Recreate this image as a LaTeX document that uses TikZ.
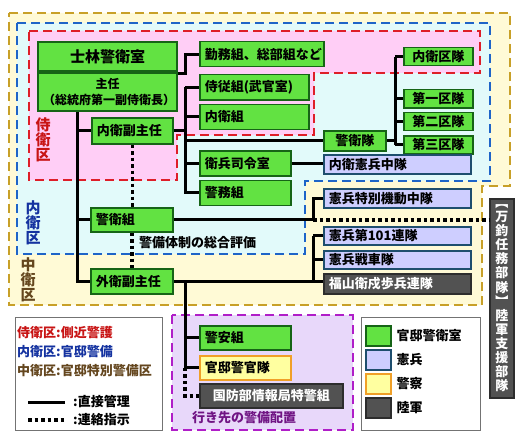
\documentclass[tikz,border=0pt]{standalone}
\usepackage{fontspec}
\setmainfont{Noto Sans CJK JP}
\usetikzlibrary{positioning}

\definecolor{grnfill}{RGB}{98,226,66}
\definecolor{grnline}{RGB}{22,100,22}
\definecolor{kenfill}{RGB}{206,206,255}
\definecolor{kenline}{RGB}{30,78,110}
\definecolor{polfill}{RGB}{255,255,160}
\definecolor{polline}{RGB}{240,160,40}
\definecolor{armyfill}{RGB}{82,82,82}
\definecolor{armyline}{RGB}{45,45,45}
\definecolor{chueifill}{RGB}{255,250,214}
\definecolor{chueiline}{RGB}{200,160,40}
\definecolor{naieifill}{RGB}{226,250,250}
\definecolor{naieiline}{RGB}{30,100,200}
\definecolor{jieifill}{RGB}{255,206,246}
\definecolor{jieiline}{RGB}{222,30,40}
\definecolor{destfill}{RGB}{232,216,250}
\definecolor{destline}{RGB}{176,30,200}
\definecolor{desttext}{RGB}{112,20,132}
\definecolor{jieitext}{RGB}{200,20,20}
\definecolor{naieitext}{RGB}{20,50,160}
\definecolor{chueitext}{RGB}{100,70,30}

\begin{document}
\begin{tikzpicture}[
  x=1pt, y=-1pt,
  font=\bfseries\fontsize{13}{15}\selectfont,
  zone/.style={line width=2.4pt, dash pattern=on 9pt off 5pt},
  box/.style={draw, line width=1.5pt, anchor=north west, inner xsep=5pt, inner ysep=0pt, minimum height=25pt, align=left},
  grn/.style={box, draw=grnline, fill=grnfill},
  ken/.style={box, draw=kenline, fill=kenfill, minimum height=19pt},
  pol/.style={box, draw=polline, fill=polfill},
  army/.style={box, draw=armyline, fill=armyfill, text=white},
  ku/.style={grn, minimum width=69pt, minimum height=18pt, align=center, inner xsep=0pt},
  swatch/.style={draw, line width=1.5pt, anchor=north west, minimum width=25pt, minimum height=20pt, inner sep=0pt},
  link/.style={line width=3pt},
  liaison/.style={line width=3.5pt, dash pattern=on 3.5pt off 3pt},
  vlabel/.style={align=center, font=\bfseries\fontsize{15}{15}\selectfont},
  note/.style={anchor=west, inner sep=0pt}
]
\useasboundingbox (0,0) rectangle (525,444);

% zones
\draw[zone, draw=chueiline, fill=chueifill] (9,13) -- (510,13) -- (510,186) -- (482,186) -- (482,305) -- (9,305) -- cycle;
\draw[zone, draw=naieiline, fill=naieifill] (17,23) -- (490,23) -- (490,181) -- (305,181) -- (305,254) -- (17,254) -- cycle;
\draw[zone, draw=jieiline, fill=jieifill] (29,31) -- (480,31) -- (480,73) -- (314,73) -- (314,135) -- (177,135) -- (177,180) -- (29,180) -- cycle;
\draw[zone, draw=destline, fill=destfill] (172,315) rectangle (353,430);

\node[vlabel, text=jieitext] (jieilabel) at (43,140) {侍\\衛\\区};
\node[vlabel, text=naieitext] (naieilabel) at (33,223) {内\\衛\\区};
\node[vlabel, text=chueitext] (chueilabel) at (28,280) {中\\衛\\区};
\node[note, text=desttext] (destlabel) at (192,418) {行き先の警備配置};

% left column
\node[grn, line width=2pt, text width=129pt, minimum height=29pt, align=center, font=\bfseries\fontsize{15}{15}\selectfont] (shilin) at (37,41) {士林警衛室};
\node[grn, line width=2pt, text width=129pt, minimum height=38pt, align=center, anchor=north, font=\bfseries\fontsize{12}{16}\selectfont, below=0pt of shilin] (chief) {主任\\（総統府第一副侍衛長）};
\node[grn, text width=71pt, minimum height=26pt] (naiei) at (91,117) {内衛副主任};
\node[grn, text width=72pt, minimum height=24pt] (keiei) at (90,207) {警衛組};
\node[grn, text width=72pt] (gaiei) at (90,268) {外衛副主任};

% middle column
\node[grn, text width=114pt] (kinmu) at (199,41) {勤務組、総部組など};
\node[grn, text width=99pt] (jiju) at (199,74) {侍従組(武官室)};
\node[grn, text width=99pt, below=3pt of jiju] (naieigumi) {内衛組};
\node[grn, text width=81pt] (eihei) at (199,150) {衛兵司令室};
\node[grn, text width=81pt, below=3pt of eihei] (keimu) {警務組};
\node[grn, text width=52pt, minimum height=20pt, align=center] (keieitai) at (323,130) {警衛隊};

% right column
\node[ku] (ku0) at (403,47) {内衛区隊};
\node[ku] (ku1) at (403,89) {第一区隊};
\node[ku, below=3pt of ku1] (ku2) {第二区隊};
\node[ku, below=4pt of ku2] (ku3) {第三区隊};
\node[ken, text width=137pt] (kenA) at (323,154) {内衛憲兵中隊};
\node[ken, text width=137pt] (kenB) at (323,188) {憲兵特別機動中隊};
\node[ken, text width=137pt, minimum height=18pt] (kenC) at (323,226) {憲兵第101連隊};
\node[ken, text width=137pt, minimum height=18pt] (kenD) at (323,250) {憲兵戦車隊};
\node[army, text width=137pt, minimum height=20pt] (fuku) at (323,273) {福山衛戍歩兵連隊};
\node[army, minimum width=24pt, minimum height=199pt, inner sep=0pt, align=center, font=\bfseries\fontsize{13}{14.1}\selectfont] (bankin) at (489,198) {︻\\万\\鈞\\任\\務\\部\\隊\\︼\\陸\\軍\\支\\援\\部\\隊};

% destinations
\node[grn, text width=81pt, minimum height=24pt] (keian) at (199,325) {警安組};
\node[pol, text width=81pt, minimum height=24pt] (kantei) at (199,355) {官邸警官隊};
\node[army, text width=133pt, minimum height=24pt, align=center] (kokubo) at (199,383) {国防部情報局特警組};

\node[note] (evalnote) at (139,243) {警備体制の総合評価};

% connectors
\coordinate (spine) at (77,0);
\coordinate (topbus) at (185,74);
\coordinate (midbus) at (185,0);
\coordinate (kubus) at (395,0);
\coordinate (kenbus) at (313,0);

\draw[link] (chief.south -| spine) |- (gaiei.west);
\draw[link] (spine |- naiei.west) -- (naiei.west);
\draw[link] (spine |- keiei.west) -- (keiei.west);
\draw[link] (chief.east |- topbus) -- (topbus) |- (kinmu.west);

\draw[link] (naiei.east) -- (naiei.east -| midbus);
\draw[link] (midbus |- jiju.west) |- (keimu.west);
\foreach \n in {jiju,naieigumi,keieitai,eihei}
  \draw[link] (midbus |- \n.west) -- (\n.west);

\draw[link] (keieitai.east) -- (keieitai.east -| kubus);
\draw[link] (kubus |- ku0.west) -- (kubus |- ku3.west);
\foreach \n in {ku0,ku1,ku2,ku3}
  \draw[link] (kubus |- \n.west) -- (\n.west);

\draw[link] (eihei.east) -- (eihei.east -| kenA.west);

\coordinate (jct) at (keiei.east -| kenbus);
\draw[link] (keiei.east) -- (jct) |- (kenB.west);
\draw[liaison] (jct) -- (jct -| bankin.west);

\draw[link] (gaiei.east) -- (gaiei.east -| fuku.west);
\draw[link] (kenbus |- kenC.west) -- (kenbus |- gaiei.east);
\foreach \n in {kenC,kenD}
  \draw[link] (kenbus |- \n.west) -- (\n.west);

\draw[link] (gaiei.east -| midbus) |- (kantei.west);
\draw[link] (midbus |- keian.west) -- (keian.west);
\draw[liaison] (midbus |- kantei.west) |- (kokubo.west);

\draw[liaison] (naiei.south) -- (naiei.south |- keiei.north);
\draw[liaison] (keiei.south) -- (keiei.south |- gaiei.north);

% legends
\node[draw=black!55, line width=0.8pt, fill=white, anchor=north west, minimum width=147pt, minimum height=113pt] (keyzone) at (15,317) {};
\node[note, text=jieitext] (keyjiei) at (17,333) {侍衛区:側近警護};
\node[note, text=naieitext] (keynaiei) at (17,352) {内衛区:官邸警備};
\node[note, text=chueitext] (keychuei) at (17,371) {中衛区:官邸特別警備区};
\coordinate (solidA) at (28,402);
\coordinate (solidB) at (65,402);
\coordinate (dotA) at (28,420);
\coordinate (dotB) at (65,420);
\draw[link] (solidA) -- (solidB);
\draw[liaison] (dotA) -- (dotB);
\node[note] (keysolid) at (73,402) {:直接管理};
\node[note] (keydot) at (73,420) {:連絡指示};

\node[draw=black!55, line width=0.8pt, fill=white, anchor=north west, minimum width=119pt, minimum height=113pt] (keyunit) at (361,317) {};
\node[swatch, draw=grnline, fill=grnfill] (swgrn) at (365,325) {};
\node[swatch, draw=kenline, fill=kenfill] (swken) at (365,349) {};
\node[swatch, draw=polline, fill=polfill] (swpol) at (365,373) {};
\node[swatch, draw=armyline, fill=armyfill] (swarmy) at (365,397) {};
\node[note, right=5pt of swgrn] (lbgrn) {官邸警衛室};
\node[note, right=5pt of swken] (lbken) {憲兵};
\node[note, right=5pt of swpol] (lbpol) {警察};
\node[note, right=5pt of swarmy] (lbarmy) {陸軍};

\end{tikzpicture}
\end{document}
